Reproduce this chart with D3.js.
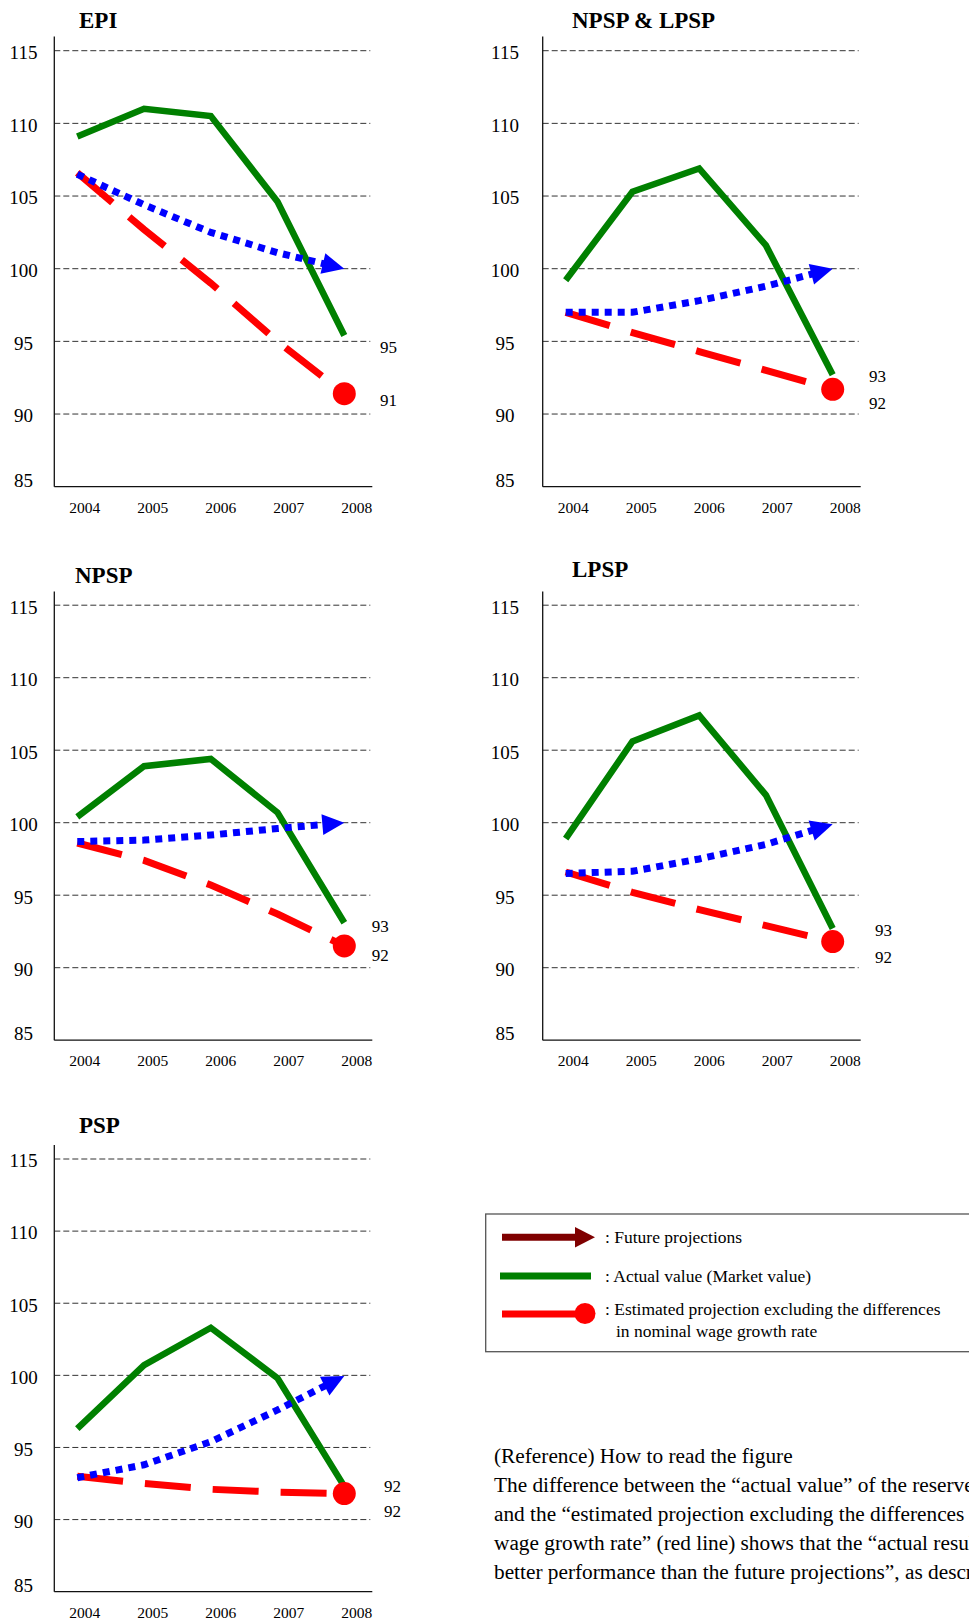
<!DOCTYPE html>
<html>
<head>
<meta charset="utf-8">
<script src="https://cdn.jsdelivr.net/npm/d3@7"></script>
<style>
  html, body { margin: 0; padding: 0; background: #fff; overflow: hidden; }
  svg { display: block; font-family: "Liberation Serif", "Times New Roman", serif; }
  svg text { font-family: "Liberation Serif", "Times New Roman", serif; }
</style>
</head>
<body>
<svg id="chart" width="969" height="1621"></svg>
<script>
// ---------------- DATA ----------------
const years = [2004, 2005, 2006, 2007, 2008];
const yTicks = [85, 90, 95, 100, 105, 110, 115];
const panelTitles = ["EPI", "NPSP & LPSP", "NPSP", "LPSP", "PSP"];

const epiActual      = [109.1, 111.0, 110.5, 104.6, 95.4];
const epiProjection  = [106.5, 104.4, 102.5, 101.1, 100.0];
const epiEstimated   = [106.6, 102.7, 99.0, 95.0, 91.4];
const epiEndLabels   = ["95", "91"];

const nlActual       = [99.2, 105.3, 106.9, 101.6, 92.7];
const nlProjection   = [97.0, 97.0, 97.8, 98.8, 100.0];
const nlEstimated    = [97.0, 95.6, 94.3, 93.0, 91.7];
const nlEndLabels    = ["93", "92"];

const npspActual     = [100.4, 103.9, 104.4, 100.7, 93.1];
const npspProjection = [98.7, 98.8, 99.15, 99.6, 100.0];
const npspEstimated  = [98.6, 97.4, 95.7, 93.7, 91.5];
const npspEndLabels  = ["93", "92"];

const lpspActual     = [98.9, 105.6, 107.4, 101.9, 92.7];
const lpspProjection = [96.5, 96.65, 97.5, 98.5, 99.9];
const lpspEstimated  = [96.6, 95.2, 94.0, 92.9, 91.8];
const lpspEndLabels  = ["93", "92"];

const pspActual      = [96.3, 100.7, 103.3, 99.8, 92.3];
const pspProjection  = [92.9, 93.8, 95.4, 97.6, 99.95];
const pspEstimated   = [93.0, 92.5, 92.1, 91.9, 91.8];
const pspEndLabels   = ["92", "92"];

const legendLabels = [": Future projections", ": Actual value (Market value)",
  ": Estimated projection excluding the differences", "in nominal wage growth rate"];

const noteLines = [
  "(Reference) How to read the figure",
  "The difference between the \u201Cactual value\u201D of the reserve fund (green line)",
  "and the \u201Cestimated projection excluding the differences in nominal",
  "wage growth rate\u201D (red line) shows that the \u201Cactual results\u201D showed",
  "better performance than the future projections\u201D, as described above."
];

// ---------------- LAYOUT ----------------
const layout = [
  {ox: 54.3,  top: 36.5,  y115: 50.7,  y85: 486.7,  tx: 79,  ty: 28.4,   tickCx: 23.5, lx: 380,   l1: 352.9,  l2: 405.6},
  {ox: 542.7, top: 36.5,  y115: 50.7,  y85: 486.7,  tx: 572, ty: 28.4,   tickCx: 505,  lx: 869,   l1: 382,    l2: 408.7},
  {ox: 54.3,  top: 591.4, y115: 605.2, y85: 1040.2, tx: 75,  ty: 583.3,  tickCx: 23.5, lx: 371.7, l1: 932.1,  l2: 960.8},
  {ox: 542.7, top: 591.4, y115: 605.2, y85: 1040.2, tx: 572, ty: 576.5,  tickCx: 505,  lx: 875,   l1: 936.2,  l2: 962.5},
  {ox: 54.3,  top: 1145,  y115: 1159,  y85: 1591.7, tx: 79,  ty: 1133.3, tickCx: 23.5, lx: 384,   l1: 1491.7, l2: 1517.3}
];
const series = [
  [epiActual, epiProjection, epiEstimated, epiEndLabels],
  [nlActual, nlProjection, nlEstimated, nlEndLabels],
  [npspActual, npspProjection, npspEstimated, npspEndLabels],
  [lpspActual, lpspProjection, lpspEstimated, lpspEndLabels],
  [pspActual, pspProjection, pspEstimated, pspEndLabels]
];

const FONT = "Liberation Serif";
const GREEN = "#008000", BLUE = "#0000FF", RED = "#FF0000", DARKRED = "#7F0000";
const svg = d3.select("#chart");

layout.forEach((L, i) => {
  const [act, proj, est, endLbl] = series[i];
  const g = svg.append("g").attr("font-family", FONT);
  const y = d3.scaleLinear().domain([85, 115]).range([L.y85, L.y115]);
  const x = d3.scaleLinear().domain([2004, 2008]).range([L.ox + 23, L.ox + 290]);
  const xl = d3.scaleLinear().domain([2004, 2008]).range([L.ox + 30, L.ox + 302]);
  const W = 316;

  // title
  g.append("text").attr("x", L.tx).attr("y", L.ty).attr("font-family", FONT)
    .attr("font-size", 23).attr("font-weight", "bold").text(panelTitles[i]);

  // gridlines
  g.selectAll(".grid").data(yTicks.filter(t => t > 85)).enter().append("line")
    .attr("x1", L.ox).attr("x2", L.ox + W)
    .attr("y1", d => y(d)).attr("y2", d => y(d))
    .attr("stroke", "#333").attr("stroke-width", 1).attr("stroke-dasharray", "6,3");

  // axes lines
  g.append("line").attr("x1", L.ox).attr("x2", L.ox).attr("y1", L.top).attr("y2", L.y85)
    .attr("stroke", "#111").attr("stroke-width", 1.3);
  g.append("line").attr("x1", L.ox).attr("x2", L.ox + W + 2).attr("y1", L.y85).attr("y2", L.y85)
    .attr("stroke", "#111").attr("stroke-width", 1.3);

  // y tick labels
  g.selectAll(".yt").data(yTicks).enter().append("text")
    .attr("x", L.tickCx)
    .attr("y", d => Math.min(y(d) + 1.7, L.y85 - 6.7))
    .attr("dy", "0.35em").attr("text-anchor", "middle").attr("font-family", FONT)
    .attr("font-size", 19).text(d => d);

  // x tick labels via axis
  const xa = g.append("g").attr("transform", `translate(0,${L.y85 + 15})`)
    .call(d3.axisBottom(xl).tickValues(years).tickFormat(d3.format("d")).tickSize(0).tickPadding(0));
  xa.attr("font-family", FONT);
  xa.select(".domain").remove();
  xa.selectAll("text").attr("font-size", 15.5).attr("font-family", FONT)
    .attr("fill", "#000").attr("dy", "0.71em");

  const pts = v => years.map((yr, k) => [x(yr), y(v[k])]);
  const line = d3.line();

  // green actual
  g.append("path").attr("d", line(pts(act))).attr("fill", "none")
    .attr("stroke", GREEN).attr("stroke-width", 6.5).attr("stroke-linejoin", "miter");

  // red estimated
  const rp = pts(est);
  g.append("path").attr("d", line(rp)).attr("fill", "none")
    .attr("stroke", RED).attr("stroke-width", 7).attr("stroke-dasharray", "46,22");
  g.append("circle").attr("cx", rp[4][0]).attr("cy", rp[4][1]).attr("r", 11.5).attr("fill", RED);

  // blue projection with arrow
  const bp = pts(proj);
  const tip = bp[4], prev = bp[3];
  const dx = tip[0] - prev[0], dy = tip[1] - prev[1], len = Math.hypot(dx, dy);
  const ux = dx / len, uy = dy / len, nx = -uy, ny = ux;
  const AL = 22, AH = 10.5;
  const base = [tip[0] - ux * AL, tip[1] - uy * AL];
  const bline = bp.slice(0, 4).concat([[base[0] + ux * 3, base[1] + uy * 3]]);
  g.append("path").attr("d", line(bline)).attr("fill", "none")
    .attr("stroke", BLUE).attr("stroke-width", 7).attr("stroke-dasharray", "7,6");
  g.append("path").attr("d", line([tip, [base[0] + nx * AH, base[1] + ny * AH], [base[0] - nx * AH, base[1] - ny * AH]]) + "Z")
    .attr("fill", BLUE);

  // end labels
  g.append("text").attr("x", L.lx).attr("y", L.l1).attr("font-family", FONT).attr("font-size", 17).text(endLbl[0]);
  g.append("text").attr("x", L.lx).attr("y", L.l2).attr("font-family", FONT).attr("font-size", 17).text(endLbl[1]);
});

// ---------------- LEGEND ----------------
const lg = svg.append("g").attr("font-family", FONT);
lg.append("rect").attr("x", 485.7).attr("y", 1214).attr("width", 520).attr("height", 137.7)
  .attr("fill", "none").attr("stroke", "#555").attr("stroke-width", 1.3);
// arrow
lg.append("line").attr("x1", 502).attr("x2", 578).attr("y1", 1237.3).attr("y2", 1237.3)
  .attr("stroke", DARKRED).attr("stroke-width", 7);
lg.append("path").attr("d", d3.line()([[595, 1237.3], [575, 1227], [575, 1247.6]]) + "Z").attr("fill", DARKRED);
// green
lg.append("line").attr("x1", 500).attr("x2", 591).attr("y1", 1276).attr("y2", 1276)
  .attr("stroke", GREEN).attr("stroke-width", 7);
// red with circle
lg.append("line").attr("x1", 502).attr("x2", 585).attr("y1", 1314).attr("y2", 1314)
  .attr("stroke", RED).attr("stroke-width", 7);
lg.append("circle").attr("cx", 585).attr("cy", 1313.5).attr("r", 10.5).attr("fill", RED);

const legendPos = [[605, 1243.3], [605, 1281.7], [605, 1315], [616, 1336.7]];
lg.selectAll(".lt").data(legendLabels).enter().append("text")
  .attr("x", (d, k) => legendPos[k][0]).attr("y", (d, k) => legendPos[k][1])
  .attr("font-family", FONT).attr("font-size", 17.5).text(d => d);

// ---------------- NOTE ----------------
svg.append("g").selectAll("text").data(noteLines).enter().append("text")
  .attr("x", 494).attr("y", (d, k) => 1463.3 + k * 29)
  .attr("font-family", FONT).attr("font-size", 21.3).text(d => d);
</script>
</body>
</html>
